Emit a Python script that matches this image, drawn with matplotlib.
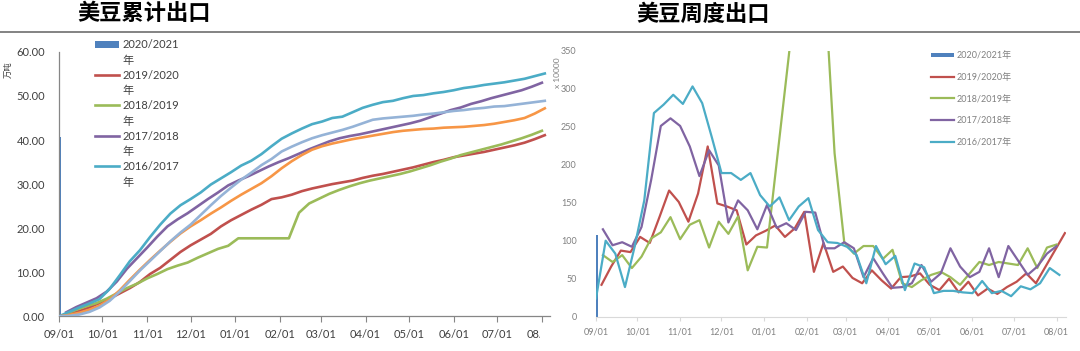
import numpy as np
import pandas as pd
import matplotlib
matplotlib.use('Agg')
import matplotlib.pyplot as plt
import matplotlib.dates as mdates
from matplotlib.lines import Line2D
from matplotlib.patches import Rectangle
from matplotlib.legend_handler import HandlerLine2D, HandlerPatch
from matplotlib.transforms import Bbox, TransformedBbox

plt.rcParams['font.family'] = ['Lato', 'Noto Sans CJK SC', 'DejaVu Sans']

# season labels and colours (Excel office palette)
seasons = ['2020/2021年', '2019/2020年', '2018/2019年', '2017/2018年', '2016/2017年']
colors = ['#4F81BD', '#C0504D', '#9BBB59', '#8064A2', '#4BACC6']
extra_colors = ['#F79646', '#95B3D7']

# ---- cumulative exports (万吨), weekly ----
cum_2020 = [40.8]
cum_2019 = [0, 0.5, 1.2, 2.0, 3.0, 4.0, 5.2, 6.4, 7.8, 9.6,
            11.0, 12.8, 14.6, 16.1, 17.4, 18.7, 20.4, 21.8, 23.0, 24.2,
            25.3, 26.6, 27.0, 27.6, 28.4, 29.0, 29.5, 30.0, 30.4, 30.8,
            31.4, 31.9, 32.3, 32.8, 33.3, 33.8, 34.4, 35.0, 35.5, 36.1,
            36.5, 36.9, 37.3, 37.8, 38.3, 38.8, 39.4, 40.2, 41.1]
cum_2018 = [0.6, 1.5, 2.3, 3.0, 4.0, 5.2, 6.4, 7.4, 8.6, 9.6,
            10.7, 11.5, 12.2, 13.3, 14.3, 15.3, 16.0, 17.7, 17.7, 17.7,
            17.7, 17.7, 17.7, 23.5, 25.6, 26.7, 27.8, 28.7, 29.5, 30.2,
            30.8, 31.3, 31.8, 32.3, 32.9, 33.6, 34.3, 35.1, 35.8, 36.6,
            37.2, 37.8, 38.4, 39.0, 39.7, 40.4, 41.2, 42.1]
cum_2017 = [0.9, 2.1, 3.1, 4.1, 5.6, 7.9, 10.8, 13.2, 15.6, 18.1,
            20.4, 22.0, 23.4, 25.0, 26.6, 28.1, 29.7, 30.8, 31.8, 32.9,
            34.0, 35.0, 35.9, 36.9, 37.9, 38.8, 39.7, 40.4, 40.9, 41.3,
            41.8, 42.3, 42.8, 43.3, 43.8, 44.4, 45.2, 46.0, 46.8, 47.4,
            48.2, 48.8, 49.5, 50.1, 50.7, 51.3, 52.1, 53.0]
cum_2016 = [0, 1.0, 2.0, 2.9, 3.9, 6.2, 9.3, 12.5, 15.0, 18.0,
            20.8, 23.3, 25.2, 26.6, 28.1, 29.9, 31.3, 32.7, 34.2, 35.3,
            36.8, 38.6, 40.3, 41.5, 42.6, 43.6, 44.2, 45.0, 45.3, 46.3,
            47.3, 48.0, 48.6, 48.9, 49.5, 50.0, 50.2, 50.6, 50.9, 51.3,
            51.8, 52.1, 52.5, 52.8, 53.1, 53.5, 53.9, 54.5, 55.1]
cum_orange = [0, 0.3, 0.8, 1.5, 2.4, 3.8, 5.9, 8.3, 10.6, 12.8,
              14.9, 16.9, 18.8, 20.4, 21.8, 23.3, 24.7, 26.2, 27.6, 28.9,
              30.2, 31.8, 33.6, 35.2, 36.6, 37.8, 38.6, 39.2, 39.7, 40.2,
              40.6, 41.0, 41.4, 41.8, 42.1, 42.3, 42.5, 42.6, 42.8, 42.9,
              43.0, 43.2, 43.4, 43.7, 44.1, 44.5, 45.0, 46.0, 47.2]
cum_lightblue = [0, 0.1, 0.4, 1.0, 2.0, 3.5, 5.6, 8.0, 10.4, 12.6,
                 14.8, 17.0, 19.0, 20.8, 23.0, 25.2, 27.3, 29.2, 31.0, 32.6,
                 34.3, 35.7, 37.4, 38.5, 39.5, 40.4, 41.1, 41.7, 42.3, 43.0,
                 43.8, 44.6, 44.9, 45.1, 45.3, 45.5, 45.8, 46.0, 46.3, 46.6,
                 46.8, 47.1, 47.3, 47.6, 47.7, 48.0, 48.3, 48.6, 48.9]
cum_first = ['2018-09-01', '2018-09-01', '2018-09-06', '2018-09-06', '2018-09-01']

# ---- weekly exports (x 10000 t) ----
wk_2020 = [108]
wk_2019 = [42, 66, 87, 85, 105, 97, 131, 166, 151, 125,
           162, 224, 149, 145, 140, 95, 107, 113, 120, 105,
           116, 138, 59, 97, 59, 66, 51, 44, 61, 48,
           37, 52, 53, 57, 42, 35, 50, 32, 46, 28,
           37, 30, 39, 46, 57, 44, 66, 88, 110]
wk_2018 = [81, 72, 81, 64, 79, 103, 111, 131, 102, 121,
           127, 91, 125, 109, 132, 61, 92, 91, np.nan, np.nan,
           np.nan, np.nan, 650, np.nan, 215, 98, 83, 93, 93, 76,
           88, 44, 39, 48, 55, 59, 52, 42, 57, 72,
           68, 72, 70, 68, 90, 64, 91, 95]
wk_2017 = [115, 94, 98, 92, 118, 180, 251, 261, 251, 224,
           185, 219, 199, 124, 153, 140, 115, 147, 117, 123,
           114, 138, 137, 90, 90, 98, 90, 52, 77, 57,
           38, 39, 44, 68, 46, 57, 90, 66, 52, 59,
           90, 52, 93, 74, 55, 66, 83, 93]
wk_2016 = [24, 100, 83, 39, 92, 153, 268, 279, 292, 280,
           303, 281, 236, 189, 189, 180, 189, 160, 145, 157,
           127, 145, 156, 114, 98, 97, 92, 81, 44, 93,
           69, 80, 35, 70, 65, 31, 34, 34, 32, 31,
           47, 31, 34, 27, 40, 36, 44, 64, 55]
wk_first = ['2018-09-01', '2018-09-05', '2018-09-06', '2018-09-06', '2018-09-01']

season_start = '2018-09-01'


def weeks(first, n):
    return mdates.date2num(pd.date_range(first, periods=n, freq='7D'))


class ShiftLine(HandlerLine2D):
    def __init__(self, shift, **kw):
        super().__init__(**kw)
        self.shift = shift

    def create_artists(self, legend, orig_handle, xdescent, ydescent,
                       width, height, fontsize, trans):
        arts = super().create_artists(legend, orig_handle, xdescent, ydescent,
                                      width, height, fontsize, trans)
        for a in arts:
            a.set_ydata(np.asarray(a.get_ydata()) + self.shift)
        return arts


def bar_handler(thick, shift):
    def make(legend, orig_handle, xdescent, ydescent, width, height, fontsize):
        return Rectangle((-xdescent, -ydescent + (height - thick) / 2 + shift),
                         width, thick)
    return HandlerPatch(patch_func=make)


W, H = 1080, 351
fig = plt.figure(figsize=(W / 100, H / 100), dpi=100)
fig.patch.set_facecolor('white')

# titles and rule
fig.text(144 / W, 1 - 14 / H, '美豆累计出口', ha='center', va='center',
         fontsize=16, fontweight='bold', family='Noto Sans CJK SC')
fig.text(703 / W, 1 - 14 / H, '美豆周度出口', ha='center', va='center',
         fontsize=16, fontweight='bold', family='Noto Sans CJK SC')
fig.add_artist(Line2D([0, 1], [1 - 32 / H] * 2, transform=fig.transFigure,
                      color='#7a7a7a', lw=1.3))

x0 = mdates.date2num(pd.Timestamp(season_start))

# ---------------- left: cumulative ----------------
ax1 = fig.add_axes([59 / W, (H - 316.3) / H, 491 / W, 264.4 / H])
b1 = ax1.bar(weeks(cum_first[0], 1), cum_2020, width=1.7, align='edge',
             color=colors[0], zorder=2)[0]
cum_series = [cum_2019, cum_2018, cum_2017, cum_2016]
left_lines = []
for i, ys in enumerate(cum_series):
    xs = weeks(cum_first[i + 1], len(ys))
    ln, = ax1.plot(xs, ys, color=colors[i + 1], lw=1.9, zorder=3)
    left_lines.append(ln)
for ys, c in zip([cum_orange, cum_lightblue], extra_colors):
    ax1.plot(weeks(season_start, len(ys)), ys, color=c, lw=1.9, zorder=3)

ax1.set_xlim(x0, x0 + 339.6)
ax1.set_ylim(0, 60)
ax1.set_yticks(np.arange(0, 61, 10))
ax1.yaxis.set_major_formatter(plt.FormatStrFormatter('%.2f'))
ax1.xaxis.set_major_locator(mdates.MonthLocator())
ax1.xaxis.set_major_formatter(mdates.DateFormatter('%m/%d'))
for s in ['top', 'right']:
    ax1.spines[s].set_visible(False)
for s in ['left', 'bottom']:
    ax1.spines[s].set_color('#868686')
    ax1.spines[s].set_linewidth(0.9)
ax1.tick_params(axis='y', length=0, pad=10, labelsize=8, labelcolor='#404040')
ax1.tick_params(axis='x', length=4, color='#868686', pad=5, labelsize=8,
                labelcolor='#404040')
fig.text(8 / W, 1 - 70 / H, '万吨', rotation=90, ha='center', va='center',
         fontsize=6, color='#404040')

leg1 = ax1.legend([b1] + left_lines, [s.replace('年', '\n年') for s in seasons],
                  loc='upper left', bbox_to_anchor=(95 / W, 1 - 39.5 / H),
                  bbox_transform=fig.transFigure, frameon=False, fontsize=8,
                  labelcolor='#404040', handlelength=2.2, handletextpad=0.25,
                  labelspacing=0.38, borderpad=0, borderaxespad=0,
                  handler_map={b1: bar_handler(4.5, 6.3), Line2D: ShiftLine(6.3)})
for t in leg1.get_texts():
    t.set_linespacing(1.47)

# ---------------- right: weekly ----------------
ax2 = fig.add_axes([596 / W, (H - 316.7) / H, 470 / W, 266 / H])
b2 = ax2.bar(weeks(wk_first[0], 1), wk_2020, width=1.8, align='edge',
             color=colors[0], zorder=2)[0]
wk_series = [wk_2019, wk_2018, wk_2017, wk_2016]
right_lines = []
for i, ys in enumerate(wk_series):
    ys = np.asarray(ys, dtype=float)
    xs = weeks(wk_first[i + 1], len(ys))
    ok = ~np.isnan(ys)
    ln, = ax2.plot(xs[ok], ys[ok], color=colors[i + 1], lw=1.6, zorder=3)
    right_lines.append(ln)

ax2.set_xlim(x0, x0 + 340.8)
ax2.set_ylim(0, 350)
ax2.set_yticks(np.arange(0, 351, 50))
ax2.xaxis.set_major_locator(mdates.MonthLocator())
ax2.xaxis.set_major_formatter(mdates.DateFormatter('%m/%d'))
for s in ['top', 'right', 'left']:
    ax2.spines[s].set_visible(False)
ax2.spines['bottom'].set_color('#d9d9d9')
ax2.tick_params(axis='y', length=0, pad=14, labelsize=6.5, labelcolor='#808080')
ax2.tick_params(axis='x', length=3, color='#d9d9d9', pad=5, labelsize=6.5,
                labelcolor='#808080')
fig.text(557 / W, 1 - 73 / H, 'x 10000', rotation=90, ha='center', va='center',
         fontsize=6, color='#808080')

ax2.legend([b2] + right_lines, seasons, loc='upper left',
           bbox_to_anchor=(931 / W, 1 - 51 / H), bbox_transform=fig.transFigure,
           frameon=False, fontsize=6.5, labelcolor='#808080', handlelength=2.6,
           handletextpad=0.2, labelspacing=1.42, borderpad=0, borderaxespad=0,
           handler_map={b2: bar_handler(2.6, 0)})

# clip the left panel's tick labels at the panel edge
fig.canvas.draw()
clip = TransformedBbox(Bbox([[0, 0], [540 / W, 1]]), fig.transFigure)
for lbl in ax1.get_xticklabels():
    lbl.set_clip_box(clip)
    lbl.set_clip_on(True)

fig.savefig('out.png', dpi=100, facecolor='white')
